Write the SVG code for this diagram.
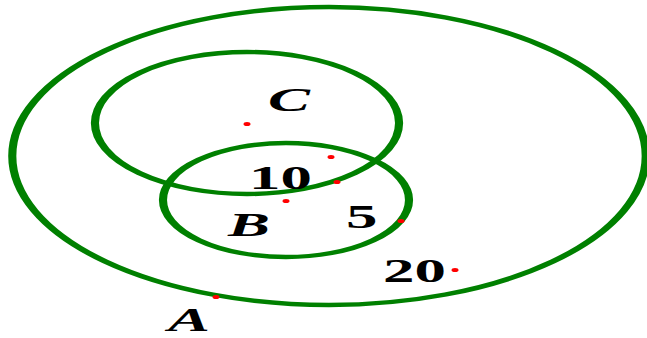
<svg xmlns="http://www.w3.org/2000/svg" width="647" height="338" viewBox="0 0 647 338">
<style>
.set{fill:none;stroke:#008000;stroke-width:4.4}
.lbl{font-family:"Liberation Serif","Times New Roman",serif;font-weight:bold;font-size:34px;fill:#000}
.it{font-style:italic}
.dot{fill:#ff0000}
</style>
<rect width="647" height="338" fill="#fff"/>
<g id="connectors"></g>
<g id="setA">
<ellipse class="set" cx="0" cy="0" rx="171.2" ry="149" transform="translate(329,156) scale(1.85,1)"/>
<text class="lbl it" transform="translate(168,331) scale(1.85,1)">A</text>
</g>
<g id="setC">
<ellipse class="set" cx="0" cy="0" rx="82.2" ry="71" transform="translate(247,123) scale(1.85,1)"/>
<text class="lbl it" transform="translate(268,111) scale(1.85,1)">C</text>
</g>
<g id="setB">
<ellipse class="set" cx="0" cy="0" rx="66.5" ry="57" transform="translate(286,200) scale(1.85,1)"/>
<text class="lbl it" transform="translate(228,236) scale(1.85,1)">B</text>
</g>
<g id="labels">
<text class="lbl" transform="translate(249,189) scale(1.85,1)">10</text>
<text class="lbl" transform="translate(346,228) scale(1.85,1)">5</text>
<text class="lbl" transform="translate(383,282) scale(1.85,1)">20</text>
</g>
<g id="dots">
<ellipse class="dot" cx="247" cy="124" rx="3.5" ry="2"/>
<ellipse class="dot" cx="331" cy="157" rx="3.5" ry="2"/>
<ellipse class="dot" cx="337" cy="182" rx="3.5" ry="2"/>
<ellipse class="dot" cx="286" cy="201" rx="3.5" ry="2"/>
<ellipse class="dot" cx="401" cy="221" rx="3.5" ry="2"/>
<ellipse class="dot" cx="455" cy="270" rx="3.5" ry="2"/>
<ellipse class="dot" cx="216" cy="297" rx="3.5" ry="2"/>
</g>
</svg>
